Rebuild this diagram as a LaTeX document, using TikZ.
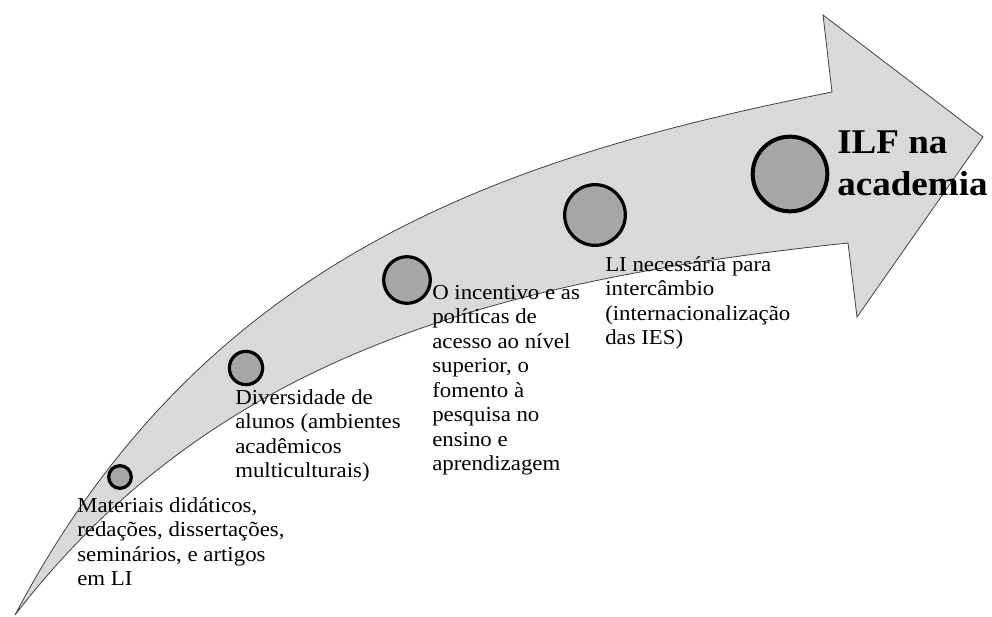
\documentclass[tikz,border=0pt]{standalone}
\usepackage{fontspec}
\setmainfont{Liberation Serif}[FakeStretch=1.07]
\definecolor{arrowgray}{HTML}{D9D9D9}
\definecolor{edgegray}{HTML}{404040}
\definecolor{dotgray}{HTML}{A6A6A6}
\begin{document}
\begin{tikzpicture}[x=0.75pt,y=-0.75pt,
  arrowbody/.style={fill=arrowgray, draw=edgegray, line width=0.6pt, line join=miter},
  dot/.style={circle, draw=black, fill=dotgray, line width=2.4pt, inner sep=0pt},
  lbl/.style={anchor=base west, inner sep=0pt, font=\fontsize{16}{18.4}\selectfont}]
\useasboundingbox (0,0) rectangle (992,617);
% curved arrow body
\draw[arrowbody] (15,615) .. controls (205,254) and (507,157) .. (832,92)
  -- (823,15) -- (983,137) -- (857,317) -- (848,243)
  .. controls (498,280) and (215,355) .. (15,615) -- cycle;
% milestones
\node[dot, minimum size=17pt] (c1) at (120,477) {};
\node[dot, minimum size=25pt] (c2) at (246,368) {};
\node[dot, minimum size=35pt] (c3) at (407,280) {};
\node[dot, minimum size=45.5pt] (c4) at (595,215) {};
\node[dot, minimum size=56pt, line width=3pt] (c5) at (790,174) {};
% labels
\node[lbl] (t1) at (77,512) {\begin{tabular}[t]{@{}l@{}}Materiais didáticos,\\ redações, dissertações,\\ seminários, e artigos\\ em LI\end{tabular}};
\node[lbl] (t2) at (235,404) {\begin{tabular}[t]{@{}l@{}}Diversidade de\\ alunos (ambientes\\ acadêmicos\\ multiculturais)\end{tabular}};
\node[lbl] (t3) at (432,299) {\begin{tabular}[t]{@{}l@{}}O incentivo e as\\ políticas de\\ acesso ao nível\\ superior, o\\ fomento à\\ pesquisa no\\ ensino e\\ aprendizagem\end{tabular}};
\node[lbl] (t4) at (605,271) {\begin{tabular}[t]{@{}l@{}}LI necessária para\\ intercâmbio\\ (internacionalização\\ das IES)\end{tabular}};
\node[lbl, font=\bfseries\fontsize{26}{31.5}\selectfont] (t5) at (837,153) {\begin{tabular}[t]{@{}l@{}}ILF na\\ academia\end{tabular}};
\end{tikzpicture}
\end{document}
